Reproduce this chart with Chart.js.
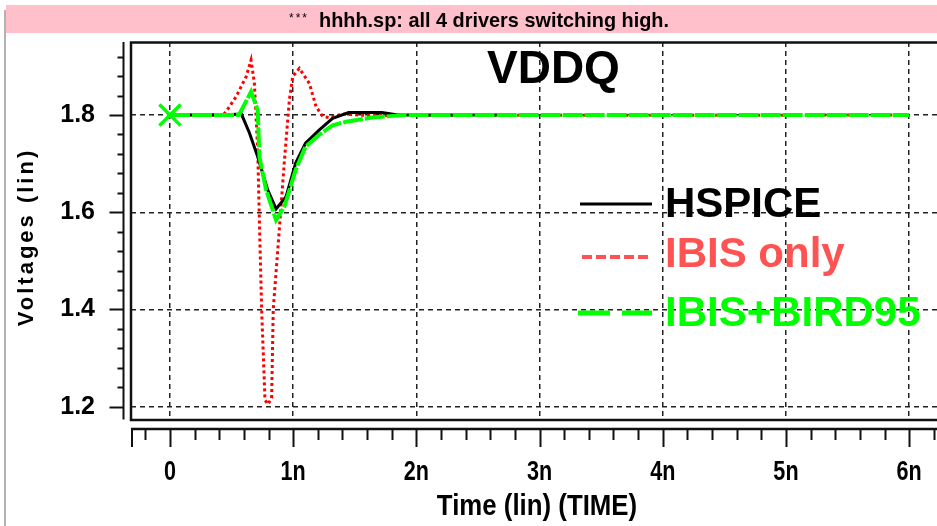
<!DOCTYPE html>
<html>
<head>
<meta charset="utf-8">
<script src="https://cdn.jsdelivr.net/npm/chart.js@4.4.1/dist/chart.umd.min.js"></script>
<style>
  html, body { margin: 0; padding: 0; background: #fff; }
  #wrap { width: 937px; height: 526px; }
</style>
</head>
<body>
<div id="wrap"><canvas id="myChart" width="937" height="526"></canvas></div>
<script>
const chartTitle = "hhhh.sp: all 4 drivers switching high.";
const netName = "VDDQ";
const xTitle = "Time (lin) (TIME)";
const yTitle = "Voltages (lin)";
const seriesNames = ["HSPICE", "IBIS only", "IBIS+BIRD95"];

// time in ns, voltage in V
const timeHspice = [0, 0.4, 0.58, 0.645, 0.712, 0.793, 0.861, 0.942, 1.02, 1.10, 1.21, 1.32, 1.45, 1.72, 1.85, 2.68];
const voltHspice = [1.8, 1.8, 1.802, 1.763, 1.714, 1.646, 1.607, 1.632, 1.701, 1.742, 1.769, 1.793, 1.805, 1.805, 1.8, 1.8];

const timeIbis = [0, 0.43, 0.456, 0.537, 0.618, 0.658, 0.685, 0.712, 0.726, 0.744, 0.771, 0.795, 0.825, 0.838, 0.893, 0.929, 0.969, 0.996, 1.05, 1.131, 1.186, 1.24, 1.29, 1.4, 1.6, 6.0];
const voltIbis = [1.8, 1.8, 1.807, 1.838, 1.879, 1.913, 1.865, 1.728, 1.578, 1.399, 1.214, 1.205, 1.218, 1.4, 1.584, 1.707, 1.831, 1.879, 1.896, 1.865, 1.817, 1.797, 1.795, 1.802, 1.799, 1.8];

const timeBird = [0, 0.56, 0.658, 0.712, 0.726, 0.78, 0.861, 0.929, 1.02, 1.10, 1.21, 1.32, 1.43, 1.64, 1.91, 6.0];
const voltBird = [1.8, 1.8, 1.848, 1.81, 1.714, 1.646, 1.584, 1.612, 1.687, 1.735, 1.759, 1.779, 1.786, 1.795, 1.8, 1.8];

const xTickValues = [0, 1, 2, 3, 4, 5, 6];
const xTickLabels = ["0", "1n", "2n", "3n", "4n", "5n", "6n"];
const yTickValues = [1.2, 1.4, 1.6, 1.8];
const yTickLabels = ["1.2", "1.4", "1.6", "1.8"];

const xMin = -0.3166, xMax = 6.226;
const yMin = 1.1737, yMax = 1.9502;

const colBlack = "#000000";
const colRed = "#ff0000";
const colRedText = "#ff5252";
const colGreen = "#00ff00";

const sans = "'Liberation Sans', Arial, sans-serif";

const toPoints = (xs, ys) => xs.map((x, i) => ({ x: x, y: ys[i] }));

// text squeezed horizontally, to get the condensed look of the original plot tool
function narrowText(c, text, x, y, sx, align) {
  const w = c.measureText(text).width * sx;
  let left = x;
  if (align === "center") left = x - w / 2;
  c.save();
  c.translate(left, y);
  c.scale(sx, 1);
  c.textAlign = "left";
  c.fillText(text, 0, 0);
  c.restore();
}

const decorations = {
  id: "decorations",
  beforeDraw(chart) {
    const c = chart.ctx;
    c.save();
    c.fillStyle = "#fff";
    c.fillRect(0, 0, chart.width, chart.height);
    // pink header band
    c.fillStyle = "#ffc0cb";
    c.fillRect(6, 5, chart.width - 6, 28);
    // window edge
    c.strokeStyle = "#9a9a9a";
    c.lineWidth = 1.5;
    c.beginPath();
    c.moveTo(5, 10);
    c.lineTo(5, chart.height);
    c.stroke();
    // header text
    c.fillStyle = "#000";
    c.textBaseline = "alphabetic";
    c.font = "12px " + sans;
    c.letterSpacing = "2px";
    c.fillText("***", 289, 22);
    c.letterSpacing = "0px";
    c.font = "bold 21px " + sans;
    const sx = 350 / c.measureText(chartTitle).width;
    narrowText(c, chartTitle, 319, 27, sx, "left");
    c.restore();
  },
  afterDatasetsDraw(chart) {
    const c = chart.ctx;
    const a = chart.chartArea;
    const xs = chart.scales.x, ys = chart.scales.y;
    c.save();
    c.setLineDash([]);
    c.strokeStyle = "#111";
    // plot frame
    c.lineWidth = 2.5;
    c.strokeRect(a.left, a.top + 0.5, a.right - a.left + 5, a.bottom - a.top);
    // y ruler
    c.lineWidth = 2;
    c.beginPath();
    c.moveTo(123.5, a.top);
    c.lineTo(123.5, a.bottom);
    for (let k = 30; k <= 48; k++) {
      const y = Math.round(ys.getPixelForValue(k * 0.04)) + 0.5;
      const len = k % 5 === 0 ? 14 : 6;
      c.moveTo(123.5 - len, y);
      c.lineTo(123.5, y);
    }
    c.stroke();
    // x ruler
    c.lineWidth = 2.5;
    c.beginPath();
    c.moveTo(a.left, 429);
    c.lineTo(a.right, 429);
    c.stroke();
    c.lineWidth = 2;
    c.beginPath();
    c.moveTo(a.left + 1, 429);
    c.lineTo(a.left + 1, 447);
    for (let k = -1; k <= 31; k++) {
      const x = Math.round(xs.getPixelForValue(k * 0.2)) + 0.5;
      const len = k % 5 === 0 ? 18 : 11;
      c.moveTo(x, 429);
      c.lineTo(x, 429 + len);
    }
    c.stroke();
    // x tick labels and axis title
    c.fillStyle = "#000";
    c.textBaseline = "alphabetic";
    c.font = "bold 27px " + sans;
    xTickValues.forEach((v, i) => {
      narrowText(c, xTickLabels[i], xs.getPixelForValue(v), 480, 0.8, "center");
    });
    c.font = "bold 29px " + sans;
    narrowText(c, xTitle, 537, 515, 0.89, "center");
    // y axis title, rotated
    c.save();
    c.translate(33, 237);
    c.rotate(-Math.PI / 2);
    c.font = "bold 22px " + sans;
    c.letterSpacing = "3px";
    c.textAlign = "center";
    c.fillText(yTitle, 0, 0);
    c.restore();
    // net name
    c.textAlign = "left";
    c.font = "bold 46px " + sans;
    c.fillText(netName, 487, 83);
    // legend inside plot
    const rows = [
      { y: 217, line: 204, color: colBlack, dash: [], width: 3, x0: 580 },
      { y: 267, line: 257, color: colRedText, dash: [10, 4], width: 4, x0: 582 },
      { y: 326, line: 313, color: colGreen, dash: [32, 12], width: 5, x0: 578 }
    ];
    c.font = "bold 42px " + sans;
    rows.forEach((r, i) => {
      c.strokeStyle = r.color;
      c.lineWidth = r.width;
      c.setLineDash(r.dash);
      c.beginPath();
      c.moveTo(r.x0, r.line);
      c.lineTo(652, r.line);
      c.stroke();
      c.fillStyle = r.color;
      c.fillText(seriesNames[i], 665, r.y);
    });
    c.restore();
  }
};

const myChart = new Chart(document.getElementById("myChart"), {
  type: "line",
  data: {
    datasets: [
      {
        label: seriesNames[2],
        data: toPoints(timeBird, voltBird),
        borderColor: colGreen,
        borderWidth: 4,
        borderDash: [20, 2],
        pointStyle: "crossRot",
        pointRadius: ctx => (ctx.dataIndex === 0 ? 15 : 0),
        pointBorderColor: colGreen,
        pointBorderWidth: 3.5,
        tension: 0,
        order: 0
      },
      {
        label: seriesNames[0],
        data: toPoints(timeHspice, voltHspice),
        borderColor: colBlack,
        borderWidth: 3,
        pointRadius: 0,
        tension: 0,
        order: 1
      },
      {
        label: seriesNames[1],
        data: toPoints(timeIbis, voltIbis),
        borderColor: colRed,
        borderWidth: 3,
        borderDash: [3, 3],
        pointRadius: 0,
        tension: 0,
        order: 2
      }
    ]
  },
  options: {
    responsive: false,
    animation: false,
    devicePixelRatio: 1,
    layout: { autoPadding: false, padding: { top: 42, left: 0, right: 0, bottom: 0 } },
    plugins: {
      legend: { display: false },
      title: { display: false },
      tooltip: { enabled: false }
    },
    scales: {
      x: {
        type: "linear",
        min: xMin,
        max: xMax,
        afterBuildTicks: s => { s.ticks = xTickValues.map(v => ({ value: v })); },
        afterFit: s => { s.height = 106.5; s.paddingLeft = 0; s.paddingRight = 0; },
        grid: { color: "#222", lineWidth: 1.5, drawTicks: false },
        border: { display: false, dash: [5, 4] },
        ticks: { display: false },
        title: { display: false }
      },
      y: {
        type: "linear",
        min: yMin,
        max: yMax,
        afterBuildTicks: s => { s.ticks = yTickValues.map(v => ({ value: v })); },
        afterFit: s => { s.width = 131; s.paddingTop = 0; s.paddingBottom = 0; },
        grid: { color: "#222", lineWidth: 1.5, drawTicks: false },
        border: { display: false, dash: [5, 4] },
        ticks: {
          callback: (v, i) => yTickLabels[i],
          font: { family: sans, size: 25, weight: "bold" },
          color: "#000",
          padding: 36
        },
        title: { display: false }
      }
    }
  },
  plugins: [decorations]
});
</script>
</body>
</html>
